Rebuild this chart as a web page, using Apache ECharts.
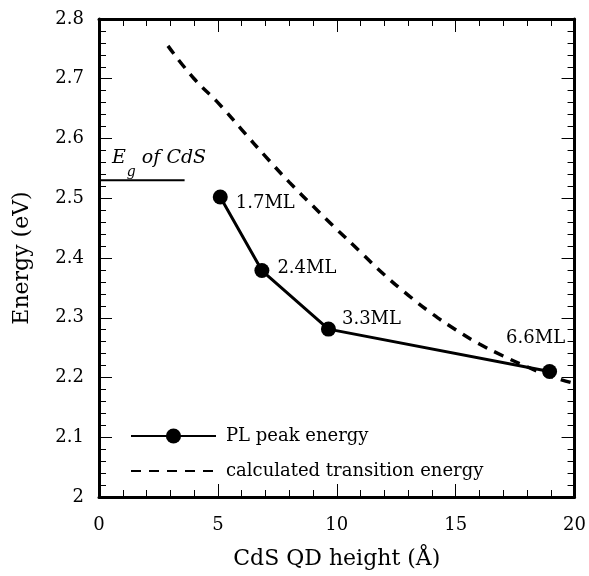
<!DOCTYPE html>
<html>
<head>
<meta charset="utf-8">
<title>CdS QD energy</title>
<script src="https://cdn.jsdelivr.net/npm/echarts@6/dist/echarts.min.js"></script>
<style>
  html, body { margin: 0; padding: 0; background: #fff; }
  #box { width: 589px; height: 576px; }
</style>
</head>
<body>
<div id="box"></div>
<script>
// PL peak energy (measured)
var plHeight = [5.1, 6.85, 9.65, 18.95];
var plEnergy = [2.502, 2.379, 2.281, 2.21];
var plNames = ['1.7ML', '2.4ML', '3.3ML', '6.6ML'];

// calculated transition energy
var calcHeight = [2.9, 4, 5, 6, 7, 8, 9, 10, 11, 12, 13, 14, 15, 16, 17, 18, 19, 20];
var calcEnergy = [2.755, 2.70, 2.66, 2.615, 2.57, 2.527, 2.487, 2.448, 2.41, 2.372, 2.338, 2.307, 2.28, 2.256, 2.236, 2.218, 2.202, 2.19];

// bulk CdS band gap marker
var egHeight = [0, 3.6];
var egEnergy = 2.53;

var xTicks = [0, 5, 10, 15, 20];

var serif = '"DejaVu Serif", "Liberation Serif", serif';

// label offsets for each point
var labelPos = [
  { position: 'right', offset: [3, 6] },
  { position: 'right', offset: [3, -2] },
  { position: 'right', offset: [1, -10] },
  { position: 'top', offset: [-14, -12] }
];

var plData = plHeight.map(function (x, i) {
  return {
    value: [x, plEnergy[i]],
    label: {
      show: true,
      formatter: plNames[i],
      position: labelPos[i].position,
      offset: labelPos[i].offset,
      fontFamily: serif,
      fontSize: 18,
      color: '#000'
    }
  };
});
var calcData = calcHeight.map(function (x, i) { return [x, calcEnergy[i]]; });
var egData = [
  {
    value: [egHeight[0], egEnergy],
    label: {
      show: true,
      position: 'right',
      distance: 0,
      offset: [13, -16],
      formatter: '{e|E}{g|g}{t| of CdS}',
      rich: {
        e: { fontFamily: serif, fontStyle: 'italic', fontSize: 19, color: '#000', verticalAlign: 'top' },
        g: { fontFamily: serif, fontStyle: 'italic', fontSize: 14, color: '#000', padding: [17, 0, 0, 1] },
        t: { fontFamily: serif, fontStyle: 'italic', fontSize: 19, color: '#000', verticalAlign: 'top' }
      }
    }
  },
  [egHeight[1], egEnergy]
];

function xAxis(pos, showLabel) {
  return {
    type: 'value', position: pos, min: 0, max: 20, interval: 5,
    name: showLabel ? 'CdS QD height (\u00c5)' : '',
    nameLocation: 'middle', nameGap: 51,
    nameTextStyle: { fontFamily: serif, fontSize: 22, color: '#000' },
    axisLine: { show: true, onZero: false, lineStyle: { color: '#000', width: 3 } },
    axisTick: { show: true, inside: true, length: 13, lineStyle: { color: '#000', width: 1 } },
    minorTick: { show: true, splitNumber: 5, length: 7, lineStyle: { color: '#000', width: 1 } },
    axisLabel: { show: showLabel, margin: 19, fontFamily: serif, fontSize: 18, color: '#000',
      formatter: function (v) { return xTicks.indexOf(v) >= 0 ? String(v) : ''; } },
    splitLine: { show: false }
  };
}
function yAxis(pos, showLabel) {
  return {
    type: 'value', position: pos, min: 2, max: 2.8, interval: 0.1,
    name: showLabel ? 'Energy (eV)' : '',
    nameLocation: 'middle', nameGap: 66,
    nameTextStyle: { fontFamily: serif, fontSize: 22, color: '#000' },
    axisLine: { show: true, onZero: false, lineStyle: { color: '#000', width: 3 } },
    axisTick: { show: true, inside: true, length: 13, lineStyle: { color: '#000', width: 1 } },
    minorTick: { show: true, splitNumber: 5, length: 7, lineStyle: { color: '#000', width: 1 } },
    axisLabel: { show: showLabel, margin: 15, fontFamily: serif, fontSize: 18, color: '#000',
      formatter: function (v) {
        var r = Math.round(v * 10) / 10;
        return r === 2 ? '2' : r.toFixed(1);
      } },
    splitLine: { show: false }
  };
}

var myChart = echarts.init(document.getElementById('box'));
var option = {
  animation: false,
  backgroundColor: '#fff',
  grid: { left: 99, right: 12, top: 19, bottom: 79, containLabel: false },
  xAxis: [xAxis('bottom', true), xAxis('top', false)],
  yAxis: [yAxis('left', true), yAxis('right', false)],
  legend: {
    orient: 'vertical', left: 130, top: 427, padding: 0,
    itemWidth: 85, itemHeight: 19, itemGap: 17,
    textStyle: { fontFamily: serif, fontSize: 18, color: '#000', padding: [0, 0, 0, 5] },
    data: [
      { name: 'PL peak energy' },
      { name: 'calculated transition energy', itemStyle: { opacity: 0 } }
    ]
  },
  series: [
    {
      name: 'calculated transition energy', type: 'line',
      data: calcData, smooth: true, symbol: 'none',
      lineStyle: { color: '#000', width: 3.5, type: [10, 8] },
      itemStyle: { color: '#000' }
    },
    {
      name: 'PL peak energy', type: 'line',
      data: plData, symbol: 'circle', symbolSize: 15,
      lineStyle: { color: '#000', width: 3 },
      itemStyle: { color: '#000' }
    },
    {
      name: 'Eg', type: 'line', data: egData, symbol: 'circle', symbolSize: 0,
      lineStyle: { color: '#000', width: 2 },
      itemStyle: { color: '#000' }
    }
  ]
};
myChart.setOption(option);
</script>
</body>
</html>
